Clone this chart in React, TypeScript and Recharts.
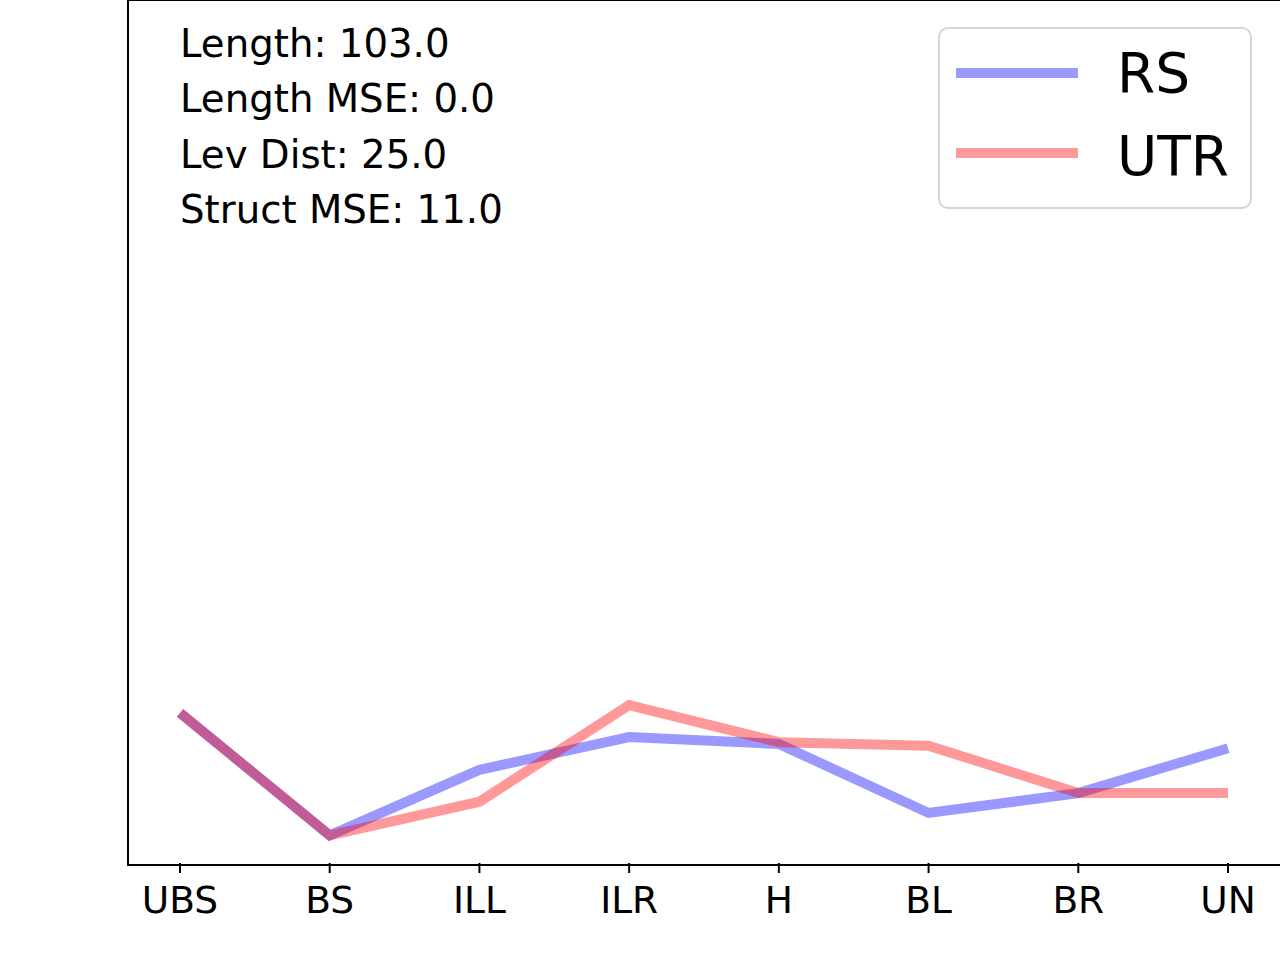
import { LineChart, Line, XAxis, YAxis } from 'recharts';

const categories = ['UBS', 'BS', 'ILL', 'ILR', 'H', 'BL', 'BR', 'UN'];
const rsValues = [17.4, 3.2, 10.8, 14.6, 13.8, 5.8, 8.1, 13.3];
const utrValues = [17.4, 3.2, 7.1, 18.3, 14.0, 13.6, 8.1, 8.1];
const stats = ['Length: 103.0', 'Length MSE: 0.0', 'Lev Dist: 25.0', 'Struct MSE: 11.0'];

const data = categories.map((c, i) => ({ name: c, RS: rsValues[i], UTR: utrValues[i] }));

const FONT = '"DejaVu Sans", sans-serif';
const BLUE = '#0000ff';
const RED = '#ff0000';

function LegendBox() {
  return (
    <svg width={316} height={184} style={{ position: 'absolute', left: 938, top: 27 }}>
      <rect x={1} y={1} width={312} height={180} rx={9} fill="rgba(255,255,255,0.8)" stroke="#d5d5d5" strokeWidth={2} />
      <line x1={18} x2={140} y1={46} y2={46} stroke="#9999ff" strokeWidth={10} />
      <line x1={18} x2={140} y1={126} y2={126} stroke="#ff9999" strokeWidth={10} />
      <text x={179} y={65} fontFamily={FONT} fontSize={55} fill="#000">RS</text>
      <text x={179} y={148} fontFamily={FONT} fontSize={55} fill="#000">UTR</text>
    </svg>
  );
}

export default function App() {
  return (
    <div style={{ position: 'absolute', left: 0, top: 0, width: 1280, height: 960, background: '#fff' }}>
      <LineChart width={1280} height={960} data={data} margin={{ top: 0, right: 1, left: 128, bottom: 0 }}>
        <XAxis
          dataKey="name"
          padding={{ left: 52, right: 51 }}
          tickSize={10}
          tickMargin={13}
          height={97}
          axisLine={false}
          tickLine={{ stroke: '#000', strokeWidth: 2 }}
          tick={{ fill: '#000', fontSize: 37.5, fontFamily: FONT }}
          interval={0}
        />
        <YAxis domain={[0, 100]} hide />
        <Line type="linear" dataKey="RS" stroke={BLUE} strokeOpacity={0.4} strokeWidth={10} dot={false} activeDot={false} isAnimationActive={false} />
        <Line type="linear" dataKey="UTR" stroke={RED} strokeOpacity={0.4} strokeWidth={10} dot={false} activeDot={false} isAnimationActive={false} />
      </LineChart>
      <div
        style={{
          position: 'absolute',
          left: 127,
          top: -1,
          width: 1151,
          height: 863,
          border: '2px solid #000',
          pointerEvents: 'none',
        }}
      />
      <svg width={600} height={260} style={{ position: 'absolute', left: 0, top: 0, pointerEvents: 'none' }}>
        {stats.map((s, i) => (
          <text key={s} x={180} y={57 + i * 55.3} fontFamily={FONT} fontSize={38.7} fill="#000">
            {s}
          </text>
        ))}
      </svg>
      <LegendBox />
    </div>
  );
}
